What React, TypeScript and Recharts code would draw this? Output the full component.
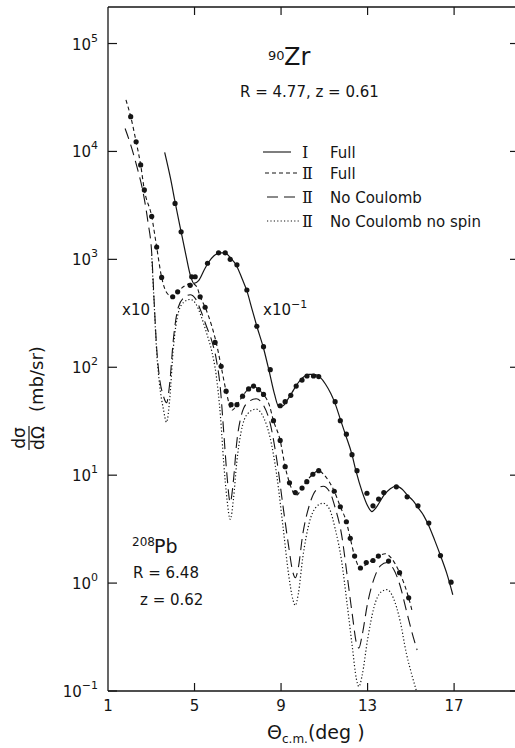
import { ComposedChart, Line, Scatter, XAxis, YAxis } from 'recharts';

// curve I, full calculation (90Zr, x10^-1)
const fullIAngle = [3.62, 3.9, 4.1, 4.38, 4.6, 4.8, 4.97, 5.2, 5.45, 5.65, 5.9, 6.15, 6.4, 6.65, 6.96, 7.2, 7.42, 7.65, 7.88, 8.19, 8.45, 8.7, 8.9, 9.1, 9.3, 9.5, 9.75, 10.0, 10.3, 10.55, 10.8, 11.05, 11.3, 11.5, 11.74, 11.97, 12.28, 12.46, 12.75, 13.0, 13.2, 13.45, 13.75, 14.05, 14.33, 14.6, 14.85, 15.1, 15.33, 15.6, 15.83, 16.1, 16.37, 16.65, 16.94];
const fullIValue = [9800, 5500, 3400, 1800, 1100, 720, 600, 640, 800, 940, 1080, 1150, 1150, 1040, 860, 660, 510, 350, 240, 150, 92, 56, 43, 44, 50, 58, 70, 80, 86, 86, 81, 70, 57, 46, 33, 24, 15.5, 11, 7, 5.2, 4.6, 5.2, 6.5, 7.5, 7.9, 7.4, 6.5, 5.8, 5.0, 4.2, 3.4, 2.5, 1.8, 1.25, 0.78];
const dataIAngle = [4.1, 4.38, 4.87, 5.03, 5.6, 6.11, 6.42, 6.65, 6.96, 7.42, 7.88, 8.19, 8.5, 8.96, 9.19, 9.45, 9.7, 9.97, 10.2, 10.5, 10.74, 11.5, 11.74, 12.02, 12.28, 12.51, 12.97, 13.25, 13.51, 13.75, 14.33, 14.83, 15.33, 15.83, 16.37, 16.86];
const dataIValue = [3300, 1800, 690, 690, 920, 1150, 1150, 1000, 890, 520, 240, 155, 95, 44, 48, 55, 67, 76, 83, 83, 82, 48, 32, 24, 15.5, 11, 6.8, 5.2, 6.0, 6.9, 7.8, 6.3, 5.2, 3.6, 1.8, 1.02];

// curve II, full calculation (208Pb, x10)
const fullIIAngle = [1.83, 2.05, 2.3, 2.51, 2.68, 3.02, 3.25, 3.48, 3.75, 3.99, 4.22, 4.5, 4.85, 5.1, 5.26, 5.49, 5.8, 6.0, 6.23, 6.46, 6.73, 6.96, 7.22, 7.5, 7.73, 7.96, 8.19, 8.45, 8.65, 8.96, 9.19, 9.39, 9.7, 9.97, 10.2, 10.47, 10.74, 11.0, 11.46, 11.74, 12.02, 12.2, 12.4, 12.7, 12.94, 13.25, 13.5, 13.82, 14.1, 14.48, 14.9, 15.06];
const fullIIValue = [30000, 21000, 12300, 7500, 4400, 2500, 1300, 680, 480, 450, 500, 560, 600, 560, 450, 360, 240, 170, 102, 60, 40, 45, 54, 63, 67, 62, 56, 45, 32, 21, 12, 8.5, 6.5, 7.6, 8.9, 10.2, 11, 10, 7.1, 5.1, 3.7, 2.6, 1.78, 1.36, 1.5, 1.65, 1.78, 1.87, 1.7, 1.25, 0.73, 0.55];
const dataIIAngle = [2.05, 2.3, 2.51, 2.68, 3.02, 3.25, 3.48, 3.99, 4.22, 4.8, 5.26, 5.49, 5.95, 6.23, 6.46, 6.69, 6.96, 7.22, 7.5, 7.73, 7.96, 8.19, 8.65, 8.96, 9.19, 9.39, 9.66, 9.97, 10.19, 10.47, 10.74, 11.46, 11.74, 12.02, 12.2, 12.4, 12.67, 12.94, 13.25, 13.5, 13.97, 14.48, 14.9];
const dataIIValue = [21000, 12300, 7500, 4400, 2500, 1300, 680, 450, 500, 575, 450, 360, 170, 102, 60, 45, 45, 54, 63, 67, 62, 56, 32, 21, 12, 8.5, 6.9, 7.6, 8.7, 10.2, 11, 7.1, 5.1, 3.7, 2.6, 1.78, 1.38, 1.55, 1.62, 1.78, 1.6, 1.25, 0.73];

// curve II, no Coulomb
const noCoulAngle = [1.79, 2.05, 2.33, 2.63, 2.85, 3.02, 3.13, 3.25, 3.38, 3.55, 3.71, 3.85, 4.02, 4.25, 4.5, 4.8, 5.05, 5.3, 5.55, 5.8, 6.0, 6.2, 6.35, 6.5, 6.65, 6.8, 6.95, 7.15, 7.45, 7.85, 8.2, 8.5, 8.8, 9.1, 9.35, 9.55, 9.66, 9.8, 10.0, 10.3, 10.6, 10.95, 11.25, 11.5, 11.8, 12.05, 12.3, 12.48, 12.6, 12.75, 13.0, 13.3, 13.6, 13.9, 14.2, 14.5, 14.8, 15.05, 15.29];
const noCoulValue = [16300, 11500, 7300, 4100, 2200, 1150, 420, 150, 80, 55, 47, 70, 180, 360, 440, 470, 430, 330, 240, 175, 120, 62, 25, 10, 5.6, 9, 20, 35, 47, 51, 44, 30, 14, 5, 2.2, 1.25, 1.12, 1.4, 2.8, 5.2, 7.2, 7.9, 7.0, 5.0, 2.8, 1.2, 0.5, 0.28, 0.25, 0.33, 0.65, 1.1, 1.45, 1.55, 1.35, 0.95, 0.55, 0.35, 0.24];

// curve II, no Coulomb no spin
const noSpinAngle = [3.02, 3.13, 3.25, 3.38, 3.55, 3.71, 3.85, 4.02, 4.25, 4.5, 4.8, 5.05, 5.3, 5.55, 5.8, 6.0, 6.2, 6.35, 6.5, 6.65, 6.8, 6.95, 7.15, 7.45, 7.85, 8.2, 8.5, 8.8, 9.1, 9.35, 9.55, 9.66, 9.8, 10.0, 10.3, 10.6, 10.95, 11.25, 11.5, 11.8, 12.05, 12.3, 12.48, 12.6, 12.75, 13.0, 13.3, 13.6, 13.9, 14.2, 14.5, 14.8, 15.05, 15.26];
const noSpinValue = [1100, 400, 140, 70, 42, 31, 50, 150, 320, 400, 425, 390, 300, 210, 140, 85, 35, 13, 6, 3.9, 6, 13, 25, 37, 41, 34, 22, 10, 3.2, 1.2, 0.7, 0.62, 0.8, 1.7, 3.6, 5.0, 5.5, 4.8, 3.2, 1.6, 0.65, 0.25, 0.13, 0.11, 0.14, 0.3, 0.6, 0.82, 0.87, 0.72, 0.45, 0.22, 0.14, 0.1];

const xTicks = [1, 5, 9, 13, 17];
const topTicks = [5, 9, 13, 17];
const yTicks = [0.1, 1, 10, 100, 1000, 10000, 100000];

const zip = (a: number[], b: number[]) => a.map((x, i) => ({ x, y: b[i] }));

const INK = '#151515';
const FONT = '"DejaVu Sans", sans-serif';

const BottomTick = (p: any) => (
  <g>
    {p.payload.value !== 1 && <line x1={p.x} x2={p.x} y1={p.y} y2={p.y - 8} stroke={INK} strokeWidth={1.2} />}
    <text x={p.x} y={p.y + 20} textAnchor="middle" fontSize={15} fill={INK} fontFamily={FONT}>{p.payload.value}</text>
  </g>
);

const TopTick = (p: any) => (
  <line x1={p.x} x2={p.x} y1={p.y} y2={p.y + 8} stroke={INK} strokeWidth={1.2} />
);

const LeftTick = (p: any) => {
  const e = Math.round(Math.log10(p.payload.value));
  return (
    <g>
      <line x1={p.x} x2={p.x + 9} y1={p.y} y2={p.y} stroke={INK} strokeWidth={1.2} />
      <text x={p.x - 10} y={p.y + 6} textAnchor="end" fontSize={15} fill={INK} fontFamily={FONT}>
        10<tspan dy={-8} fontSize={11}>{e < 0 ? '\u2212' + Math.abs(e) : e}</tspan>
      </text>
    </g>
  );
};

const RightTick = (p: any) => (
  <line x1={p.x} x2={p.x - 9} y1={p.y} y2={p.y} stroke={INK} strokeWidth={1.2} />
);

const Dot = (p: any) => <circle cx={p.cx} cy={p.cy} r={2.6} fill={INK} />;

const legendRows = [
  { num: '\u2160', label: 'Full', dash: undefined, x1: 263, x2: 291 },
  { num: '\u2161', label: 'Full', dash: '4 3', x1: 265, x2: 300 },
  { num: '\u2161', label: 'No Coulomb', dash: '11 6', x1: 267, x2: 298 },
  { num: '\u2161', label: 'No Coulomb no spin', dash: '1.2 2.2', x1: 267, x2: 299 },
];
const legendY = [152, 173, 197, 221];

export default function App() {
  const t = { fill: INK, fontFamily: FONT };
  return (
    <div style={{ position: 'absolute', left: 0, top: 0, width: 515, height: 748, overflow: 'hidden', background: '#fff' }}>
      <ComposedChart width={520} height={748} margin={{ top: 0, right: 0, bottom: 0, left: 0 }}>
        <XAxis dataKey="x" type="number" domain={[1, 20]} allowDataOverflow ticks={xTicks} tickSize={0} tickMargin={0}
          tick={<BottomTick />} height={57} axisLine={{ stroke: INK, strokeWidth: 1.3 }} />
        <XAxis xAxisId="top" orientation="top" dataKey="x" type="number" domain={[1, 20]} allowDataOverflow ticks={topTicks}
          tickSize={0} tickMargin={0} tick={<TopTick />} height={7} axisLine={{ stroke: INK, strokeWidth: 1.3 }} />
        <YAxis dataKey="y" type="number" scale="log" domain={[0.1, 218000]} allowDataOverflow ticks={yTicks} tickSize={0}
          tickMargin={0} tick={<LeftTick />} width={108} axisLine={{ stroke: INK, strokeWidth: 1.3 }} />
        <YAxis yAxisId="right" orientation="right" dataKey="y" type="number" scale="log" domain={[0.1, 218000]} allowDataOverflow
          ticks={yTicks} tickSize={0} tickMargin={0} tick={<RightTick />} width={1} axisLine={false} />
        <Line data={zip(fullIAngle, fullIValue)} dataKey="y" type="monotone" stroke={INK} strokeWidth={1.2} dot={false} isAnimationActive={false} />
        <Line data={zip(fullIIAngle, fullIIValue)} dataKey="y" type="monotone" stroke={INK} strokeWidth={1.1} strokeDasharray="4 3" dot={false} isAnimationActive={false} />
        <Line data={zip(noCoulAngle, noCoulValue)} dataKey="y" type="monotone" stroke={INK} strokeWidth={1.1} strokeDasharray="11 6" dot={false} isAnimationActive={false} />
        <Line data={zip(noSpinAngle, noSpinValue)} dataKey="y" type="monotone" stroke={INK} strokeWidth={1.2} strokeDasharray="1.2 2.2" dot={false} isAnimationActive={false} />
        <Scatter data={zip(dataIAngle, dataIValue)} dataKey="y" shape={<Dot />} isAnimationActive={false} />
        <Scatter data={zip(dataIIAngle, dataIIValue)} dataKey="y" shape={<Dot />} isAnimationActive={false} />
      </ComposedChart>

      <svg width={515} height={748} style={{ position: 'absolute', left: 0, top: 0, pointerEvents: 'none' }}>
        <text x={268} y={60} fontSize={13} {...t}>90</text>
        <text x={284} y={65} fontSize={24} {...t}>Zr</text>
        <text x={240} y={97} fontSize={15} {...t}>R = 4.77,  z = 0.61</text>

        {legendRows.map((r, i) => (
          <g key={i}>
            <line x1={r.x1} x2={r.x2} y1={legendY[i]} y2={legendY[i]} stroke={INK} strokeWidth={1.1} strokeDasharray={r.dash} />
            <text x={302} y={legendY[i] + 6} fontSize={16} fontFamily='"DejaVu Serif", serif' fill={INK}>{r.num}</text>
            <text x={330} y={legendY[i] + 6} fontSize={15} {...t}>{r.label}</text>
          </g>
        ))}

        <text x={122} y={315} fontSize={15} {...t}>x10</text>
        <text x={263} y={315} fontSize={15} {...t}>x10<tspan dy={-7} fontSize={11}>{'\u2212'}1</tspan></text>

        <text x={132} y={546} fontSize={12} {...t}>208</text>
        <text x={154} y={553} fontSize={19} {...t}>Pb</text>
        <text x={133} y={578} fontSize={15} {...t}>R = 6.48</text>
        <text x={140} y={605} fontSize={15} {...t}>z = 0.62</text>

        <g transform="translate(30, 392) rotate(-90)">
          <text x={-46} y={-5} textAnchor="middle" fontSize={17} {...t}>d{'\u03c3'}</text>
          <line x1={-58} x2={-34} y1={-1} y2={-1} stroke={INK} strokeWidth={1.2} />
          <text x={-46} y={14} textAnchor="middle" fontSize={17} {...t}>d{'\u03a9'}</text>
          <text x={-20} y={13} fontSize={18} {...t}>(mb/sr)</text>
        </g>

        <text x={267} y={739} fontSize={19} {...t}>{'\u0398'}<tspan dy={4} fontSize={12}>c.m.</tspan><tspan dy={-4} fontSize={19}>(deg )</tspan></text>
      </svg>
    </div>
  );
}
